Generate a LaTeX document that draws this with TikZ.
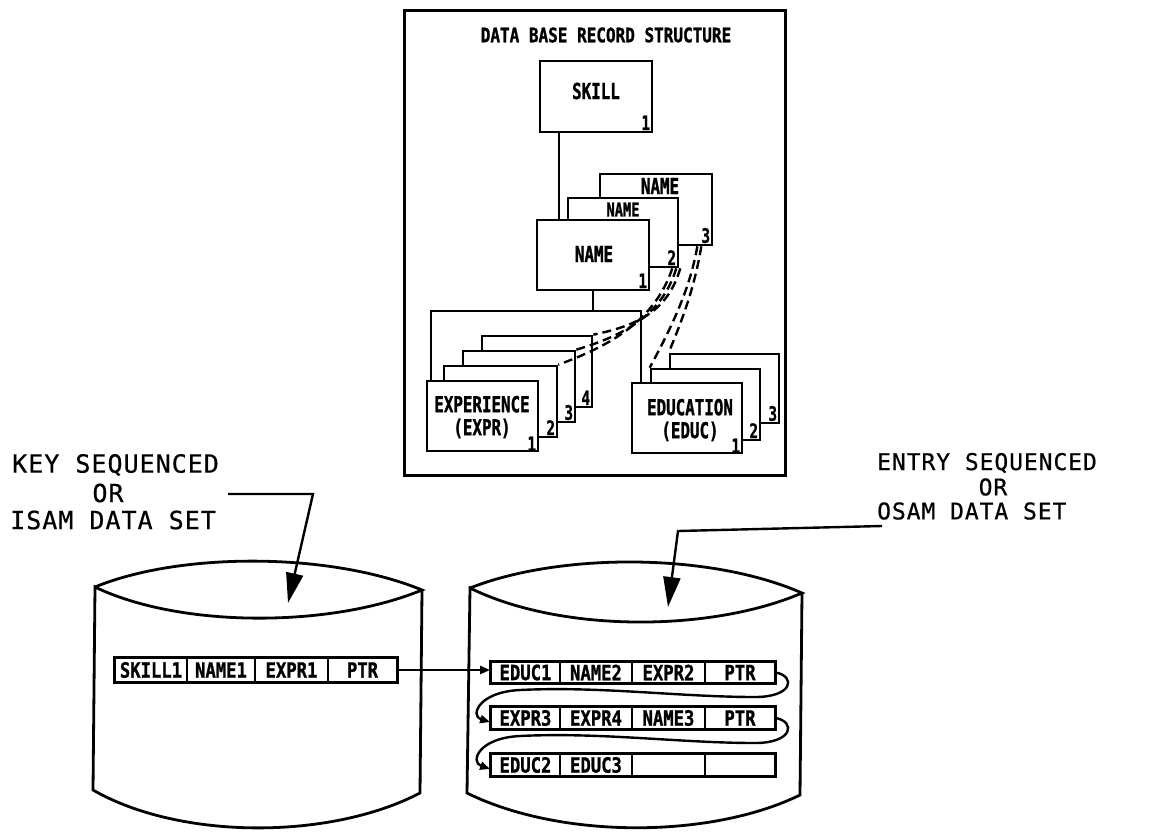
\documentclass[tikz,border=0pt]{standalone}
\usepackage{fontspec}
\usetikzlibrary{arrows.meta}
\newfontfamily\bmono[FakeStretch=0.72,FakeBold=1.2]{DejaVu Sans Mono}
\newfontfamily\tmono[FakeStretch=0.8,FakeBold=1.2]{DejaVu Sans Mono}
\newfontfamily\rmono[FakeStretch=0.82,FakeBold=1]{DejaVu Sans Mono}
\newfontfamily\lmono[LetterSpace=4,FakeBold=0.6]{DejaVu Sans Mono}
\begin{document}
\begin{tikzpicture}[x=1pt,y=-1pt,
  box/.style={draw, line width=2.6pt, fill=white, inner sep=0pt},
  lab/.style={font=\bmono\bfseries\fontsize{22}{23}\selectfont, inner sep=0pt, align=center},
  slab/.style={font=\bmono\bfseries\fontsize{19}{20}\selectfont, inner sep=0pt},
  num/.style={font=\bmono\bfseries\fontsize{20}{20}\selectfont, inner sep=0pt, anchor=south east},
  cell/.style={draw, line width=1.8pt, inner sep=0pt, font=\rmono\bfseries\fontsize{21}{21}\selectfont},
  ext/.style={font=\lmono\fontsize{25}{27}\selectfont, inner sep=0pt},
  ext2/.style={font=\lmono\fontsize{23}{25}\selectfont, inner sep=0pt},
  ln/.style={line width=2.4pt},
  dsh/.style={line width=2.4pt, dash pattern=on 9pt off 5pt},
  big/.style={ln, -{Triangle[length=30pt,width=17pt]}},
  small/.style={ln, -{Triangle[length=10pt,width=8pt]}}
]
\fill[white] (0,0) rectangle (1156,831);
\useasboundingbox (0,0) rectangle (1156,831);

% ---------- top frame ----------
\node[box, line width=3pt, minimum width=381pt, minimum height=465pt] (frame) at (594.5,242.5) {};
\node[font=\tmono\bfseries\fontsize{20}{21}\selectfont, inner sep=0pt] (title) at (606,35) {DATA BASE RECORD STRUCTURE};

% SKILL
\node[box, minimum width=112pt, minimum height=71pt] (skill) at (596,96.5) {};
\node[lab] (skilltxt) at (596,91) {SKILL};
\node[num] (skilln) at ([shift={(-3pt,3pt)}]skill.south east) {1};

% NAME stack
\node[box, minimum width=112pt, minimum height=71pt] (name3) at (656,209.5) {};
\node[lab] (name3txt) at (660,186) {NAME};
\node[num] (name3n) at ([shift={(-3pt,3pt)}]name3.south east) {3};
\node[box, minimum width=110pt, minimum height=69pt] (name2) at (623,232.5) {};
\node[slab] (name2txt) at (623,209.5) {NAME};
\node[num] (name2n) at ([shift={(-3pt,3pt)}]name2.south east) {2};
\node[box, minimum width=112pt, minimum height=70pt] (name1) at (593,255) {};
\node[lab] (name1txt) at (594,254) {NAME};
\node[num] (name1n) at ([shift={(-3pt,3pt)}]name1.south east) {1};

\draw[ln] ([xshift=20pt]skill.south west) -- ([xshift=23pt]name1.north west);

% EXPERIENCE stack
\node[box, minimum width=110pt, minimum height=71pt] (expr4) at (537,371.5) {};
\node[num] (expr4n) at ([shift={(-3pt,3pt)}]expr4.south east) {4};
\node[box, minimum width=112pt, minimum height=71pt] (expr3) at (519,386.5) {};
\node[num] (expr3n) at ([shift={(-3pt,3pt)}]expr3.south east) {3};
\node[box, minimum width=113pt, minimum height=71pt] (expr2) at (500.5,401.5) {};
\node[num] (expr2n) at ([shift={(-3pt,3pt)}]expr2.south east) {2};
\node[box, minimum width=111pt, minimum height=70pt] (expr1) at (482.5,416) {};
\node[lab] (expr1txt) at (482,417) {EXPERIENCE\\(EXPR)};
\node[num] (expr1n) at ([shift={(-3pt,1pt)}]expr1.south east) {1};

% EDUCATION stack
\node[box, minimum width=109pt, minimum height=69pt] (educ3) at (724.5,388.5) {};
\node[num] (educ3n) at ([shift={(-3pt,3pt)}]educ3.south east) {3};
\node[box, minimum width=109pt, minimum height=71pt] (educ2) at (705.5,404.5) {};
\node[num] (educ2n) at ([shift={(-3pt,3pt)}]educ2.south east) {2};
\node[box, minimum width=110pt, minimum height=70pt] (educ1) at (687,418) {};
\node[lab] (educ1txt) at (690,420) {EDUCATION\\(EDUC)};
\node[num] (educ1n) at ([shift={(-3pt,1pt)}]educ1.south east) {1};

% tree
\coordinate (j) at (593,311);
\draw[ln] (name1.south) -- (j);
\draw[ln] ([xshift=5pt]expr1.north west) |- (j) -| ([xshift=10pt]educ1.north west);

% dashed links
\draw[dsh] ([xshift=-7pt]name2.south east) .. controls (655,320) and (612,345) .. (expr2.north east);
\draw[dsh] ([xshift=-3pt]name2.south east) .. controls (662,315) and (625,335) .. (expr3.north east);
\draw[dsh] ([xshift=1pt]name2.south east) .. controls (668,310) and (640,325) .. (expr4.north east);
\draw[dsh] ([xshift=-16pt]name3.south east) .. controls (690,290) and (670,330) .. (educ2.north west);
\draw[dsh] ([xshift=-12pt]name3.south east) .. controls (694,290) and (682,320) .. (educ3.north west);

% ---------- cylinders ----------
\draw[line width=2.8pt] (95,587) .. controls (180,552) and (330,552) .. (422,590)
  .. controls (330,628) and (180,628) .. (95,587) -- (93,790)
  .. controls (180,840) and (330,840) .. (420,793) -- (422,590);
\draw[line width=2.8pt] (470,588) .. controls (560,552.5) and (710,552.5) .. (802,593)
  .. controls (710,632.5) and (560,632.5) .. (470,588) -- (467,793)
  .. controls (560,839) and (710,839) .. (800,795) -- (802,593);

% ---------- labels with arrows ----------
\node[ext, anchor=west] (key1) at (12,465) {KEY SEQUENCED};
\node[ext] (key2) at (108,493) {OR};
\node[ext, anchor=west] (key3) at (10,520) {ISAM DATA SET};
\coordinate (kstart) at (228,494);
\coordinate (kbend) at (313,494);
\coordinate (ktip) at (288,603);
\draw[big] (kstart) -- (kbend) -- (ktip);

\node[ext2, anchor=west] (ent1) at (877,463) {ENTRY SEQUENCED};
\node[ext2] (ent2) at (993,487) {OR};
\node[ext2, anchor=west] (ent3) at (877,511) {OSAM DATA SET};
\coordinate (estart) at (882,526);
\coordinate (ebend) at (678,531);
\coordinate (etip) at (668,607);
\draw[big] (estart) -- (ebend) -- (etip);

% ---------- records ----------
\node[cell, minimum width=72pt, minimum height=23pt] (l1) at (151,670) {SKILL1};
\node[cell, minimum width=68pt, minimum height=23pt] (l2) at (221,670) {NAME1};
\node[cell, minimum width=73pt, minimum height=23pt] (l3) at (291.5,670) {EXPR1};
\node[cell, minimum width=69pt, minimum height=23pt] (l4) at (362.5,670) {PTR};
\draw[line width=2.6pt] (l1.north west) rectangle (l4.south east);

\node[cell, minimum width=69pt, minimum height=21pt] (r11) at (525.5,672.5) {EDUC1};
\node[cell, minimum width=72pt, minimum height=21pt] (r12) at (596,672.5) {NAME2};
\node[cell, minimum width=73pt, minimum height=21pt] (r13) at (668.5,672.5) {EXPR2};
\node[cell, minimum width=70pt, minimum height=21pt] (r14) at (740,672.5) {PTR};
\draw[line width=2.6pt] (r11.north west) rectangle (r14.south east);

\node[cell, minimum width=69pt, minimum height=21pt] (r21) at (525.5,718) {EXPR3};
\node[cell, minimum width=72pt, minimum height=21pt] (r22) at (596,718) {EXPR4};
\node[cell, minimum width=73pt, minimum height=21pt] (r23) at (668.5,718) {NAME3};
\node[cell, minimum width=70pt, minimum height=21pt] (r24) at (740,718) {PTR};
\draw[line width=2.6pt] (r21.north west) rectangle (r24.south east);

\node[cell, minimum width=69pt, minimum height=21pt] (r31) at (525.5,765) {EDUC2};
\node[cell, minimum width=72pt, minimum height=21pt] (r32) at (596,765) {EDUC3};
\node[cell, minimum width=73pt, minimum height=21pt] (r33) at (668.5,765) {};
\node[cell, minimum width=70pt, minimum height=21pt] (r34) at (740,765) {};
\draw[line width=2.6pt] (r31.north west) rectangle (r34.south east);

\draw[small] (l4.east) -- (l4.east -| r11.west);
\draw[small] (r14.east) .. controls +(20,4) and +(38,0) .. (755,697)
  .. controls (680,697) and (600,686) .. (520,690)
  .. controls (478,692) and (470,716) .. ([yshift=-4pt]r21.west);
\draw[small] (r24.east) .. controls +(20,4) and +(38,0) .. (755,743)
  .. controls (680,743) and (600,732) .. (520,736)
  .. controls (478,738) and (470,762) .. ([yshift=-4pt]r31.west);
\end{tikzpicture}
\end{document}
